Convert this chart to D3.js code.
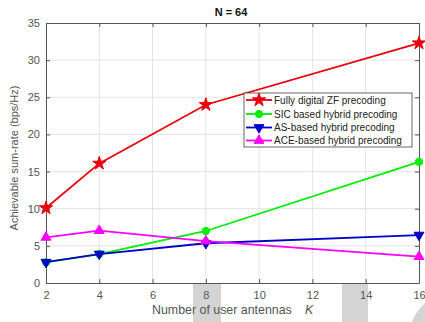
<!DOCTYPE html>
<html>
<head>
<meta charset="utf-8">
<script src="https://cdn.jsdelivr.net/npm/d3@7"></script>
<style>
  html, body { margin: 0; padding: 0; background: #fff; overflow: hidden; }
  svg { display: block; font-family: "Liberation Sans", Arial, sans-serif; }
</style>
</head>
<body>
<svg id="chart" width="425" height="322"></svg>
<script>
// Number of user antennas K
const userAntennas = [2, 4, 8, 16];

// Achievable sum-rate (bps/Hz) for each scheme
const fullyDigitalZF = [10.1, 16.1, 24.0, 32.3];
const sicHybrid = [2.8, 3.9, 7.0, 16.3];
const asHybrid = [2.8, 3.9, 5.35, 6.45];
const aceHybrid = [6.15, 7.05, 5.65, 3.55];

const seriesNames = [
  "Fully digital ZF precoding",
  "SIC based hybrid precoding",
  "AS-based hybrid precoding",
  "ACE-based hybrid precoding"
];

const xTicks = [2, 4, 6, 8, 10, 12, 14, 16];
const yTicks = [0, 5, 10, 15, 20, 25, 30, 35];

const series = [
  { name: seriesNames[0], values: fullyDigitalZF, color: "#e8000b", symbol: d3.symbolStar, size: 55 },
  { name: seriesNames[1], values: sicHybrid, color: "#00ee00", symbol: d3.symbolCircle, size: 42 },
  { name: seriesNames[2], values: asHybrid, color: "#0000c8", symbol: "down", size: 42 },
  { name: seriesNames[3], values: aceHybrid, color: "#ff00ff", symbol: "up", size: 42 }
];

const svg = d3.select("#chart");
const plot = { left: 46, top: 23, right: 419, bottom: 283 };

const x = d3.scaleLinear().domain([2, 16]).range([plot.left, plot.right]);
const y = d3.scaleLinear().domain([0, 35]).range([plot.bottom, plot.top]);

// Faint watermark shapes below the axis
const wm = svg.append("g").attr("fill", "#d4d4d4");
wm.append("rect").attr("x", 193).attr("y", 284).attr("width", 28).attr("height", 38);
wm.append("rect").attr("x", 342).attr("y", 284).attr("width", 26).attr("height", 38);
wm.append("path").attr("d", "M412,322 Q416,311 425,303 L425,322 Z");

// Grid
const grid = svg.append("g").attr("stroke", "#e3e3e3").attr("stroke-width", 1);
grid.selectAll("line.v").data(xTicks.slice(1, -1)).join("line")
  .attr("x1", d => x(d)).attr("x2", d => x(d))
  .attr("y1", plot.top).attr("y2", plot.bottom);
grid.selectAll("line.h").data(yTicks.slice(1, -1)).join("line")
  .attr("x1", plot.left).attr("x2", plot.right)
  .attr("y1", d => y(d)).attr("y2", d => y(d));

// Axes with inward ticks on all four sides
const axisColor = "#555";
const tickLen = 4;
const styleAxis = g => {
  g.select(".domain").attr("stroke", axisColor);
  g.selectAll(".tick line").attr("stroke", axisColor);
  g.selectAll(".tick text").attr("fill", "#555").attr("font-size", 11);
};

svg.append("g").attr("transform", `translate(0,${plot.bottom})`)
  .call(d3.axisBottom(x).tickValues(xTicks).tickSizeInner(-tickLen).tickSizeOuter(0).tickPadding(8))
  .call(styleAxis);
svg.append("g").attr("transform", `translate(0,${plot.top})`)
  .call(d3.axisTop(x).tickValues(xTicks).tickSizeInner(-tickLen).tickSizeOuter(0).tickFormat(""))
  .call(styleAxis);
svg.append("g").attr("transform", `translate(${plot.left},0)`)
  .call(d3.axisLeft(y).tickValues(yTicks).tickSizeInner(-tickLen).tickSizeOuter(0).tickPadding(6))
  .call(styleAxis);
svg.append("g").attr("transform", `translate(${plot.right},0)`)
  .call(d3.axisRight(y).tickValues(yTicks).tickSizeInner(-tickLen).tickSizeOuter(0).tickFormat(""))
  .call(styleAxis);

// Marker shapes
const markerPath = (s) => {
  if (s.symbol === "down" || s.symbol === "up") return d3.symbol(d3.symbolTriangle, s.size)();
  return d3.symbol(s.symbol, s.size)();
};
const markerRot = (s) => s.symbol === "down" ? " rotate(180)" : "";

// Lines and markers
const line = d3.line().x((d, i) => x(userAntennas[i])).y(d => y(d));
const lines = svg.append("g");
series.forEach(s => {
  const g = lines.append("g");
  g.append("path").datum(s.values)
    .attr("d", line).attr("fill", "none")
    .attr("stroke", s.color).attr("stroke-width", 1.8);
  g.selectAll("path.m").data(s.values).join("path")
    .attr("class", "m")
    .attr("d", markerPath(s))
    .attr("transform", (d, i) => `translate(${x(userAntennas[i])},${y(d)})${markerRot(s)}`)
    .attr("fill", s.color).attr("stroke", s.color);
});

// Legend
const lg = svg.append("g");
lg.append("rect").attr("x", 244).attr("y", 93).attr("width", 168).attr("height", 54)
  .attr("fill", "#fff").attr("stroke", "#444").attr("stroke-width", 0.8);
const rowY = [100, 114, 127.5, 140.5];
series.forEach((s, i) => {
  const g = lg.append("g");
  g.append("line").attr("x1", 246).attr("x2", 272).attr("y1", rowY[i]).attr("y2", rowY[i])
    .attr("stroke", s.color).attr("stroke-width", 1.8);
  g.append("path").attr("d", markerPath(s))
    .attr("transform", `translate(259,${rowY[i]})${markerRot(s)}`)
    .attr("fill", s.color).attr("stroke", s.color);
  g.append("text").attr("x", 274).attr("y", rowY[i]).attr("dy", "0.35em")
    .attr("font-size", 10).attr("fill", "#222").text(s.name);
});

// Title and axis labels
svg.append("text").attr("x", 231).attr("y", 16).attr("text-anchor", "middle")
  .attr("font-size", 11).attr("font-weight", "bold").attr("fill", "#111").text("N = 64");

const xl = svg.append("text").attr("x", 152).attr("y", 314)
  .attr("font-size", 12.4).attr("fill", "#555");
xl.append("tspan").text("Number of user antennas");
xl.append("tspan").attr("x", 305).attr("font-style", "italic").text("K");

svg.append("text").attr("transform", `translate(18,158) rotate(-90)`)
  .attr("text-anchor", "middle").attr("font-size", 11).attr("fill", "#555")
  .text("Achievable sum-rate (bps/Hz)");
</script>
</body>
</html>
